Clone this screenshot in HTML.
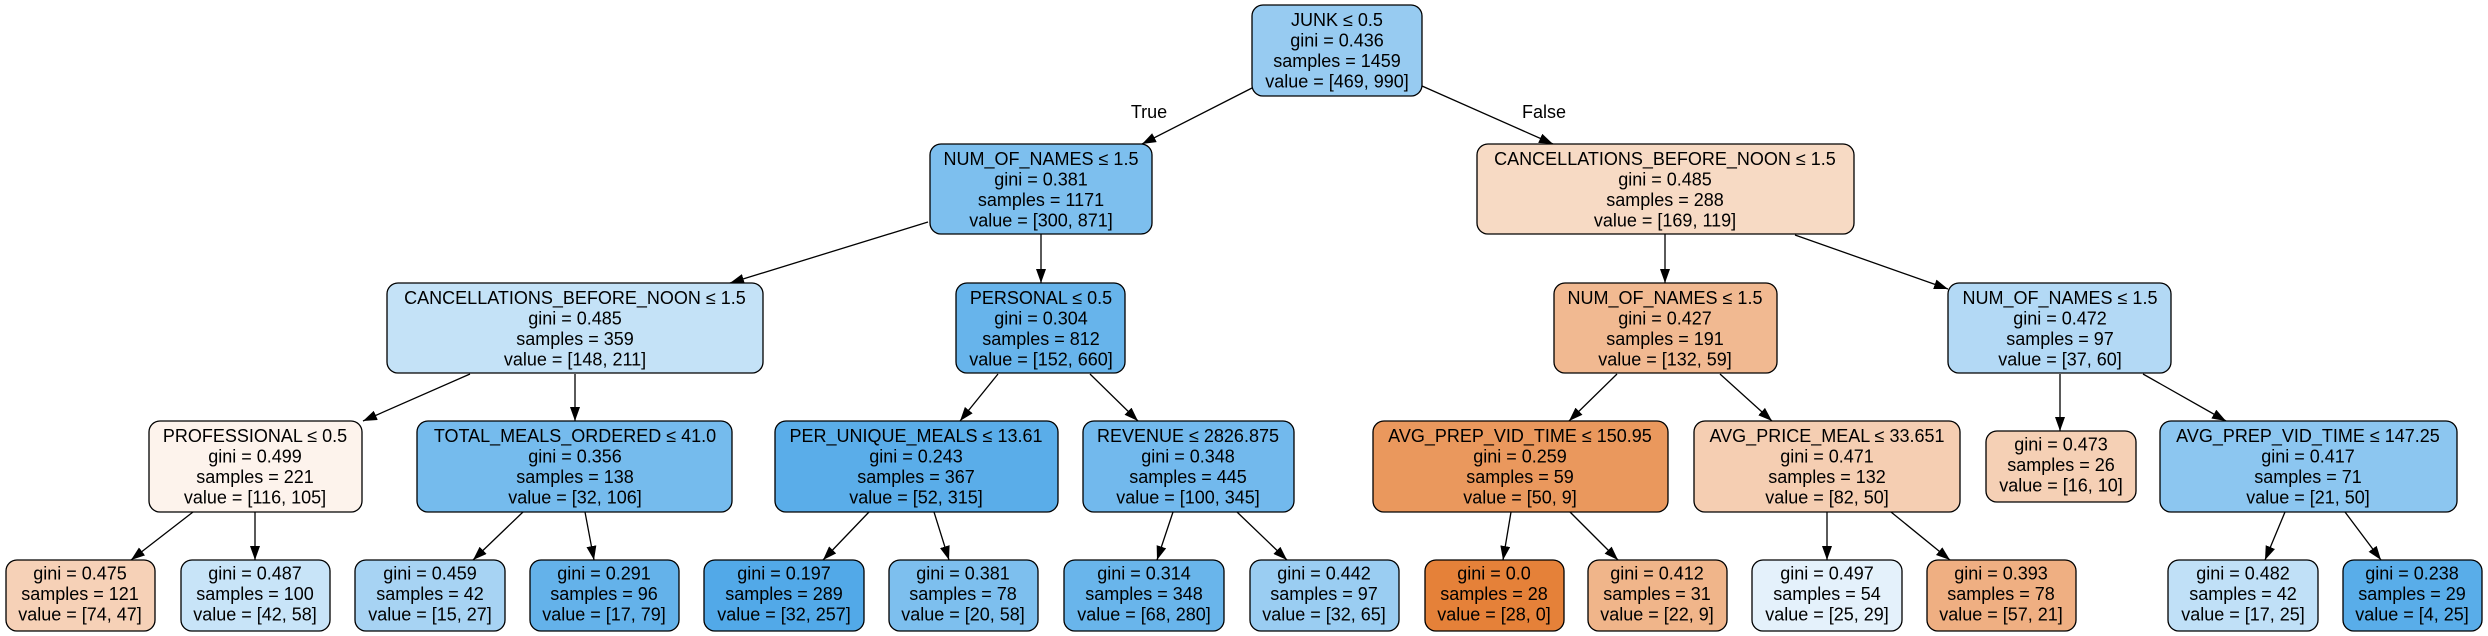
<!DOCTYPE html>
<html><head><meta charset="utf-8"><style>
html,body{margin:0;padding:0;background:#fff;}
svg{display:block;}
text{font-family:"Liberation Sans",Arial,sans-serif;font-size:18px;fill:#000;text-anchor:middle;}
rect{stroke:#000;stroke-width:1.3;}
line{stroke:#000;stroke-width:1.3;}
</style></head><body>
<svg width="2488" height="636" viewBox="0 0 2488 636" xmlns="http://www.w3.org/2000/svg">
<defs><marker id="a" markerWidth="14" markerHeight="10" refX="14" refY="5" orient="auto" markerUnits="userSpaceOnUse"><path d="M0,0 L14,5 L0,10 Z" fill="#000"/></marker></defs>
<g marker-end="url(#a)">
<line x1="1252" y1="88" x2="1142" y2="144"/>
<line x1="1422" y1="86" x2="1553" y2="144"/>
<line x1="928" y1="222" x2="730" y2="283"/>
<line x1="1041" y1="234" x2="1041" y2="283"/>
<line x1="470" y1="374" x2="363" y2="421"/>
<line x1="575" y1="374" x2="575" y2="421"/>
<line x1="998" y1="374" x2="960" y2="421"/>
<line x1="1090" y1="374" x2="1138" y2="421"/>
<line x1="193" y1="512" x2="131" y2="560"/>
<line x1="255" y1="512" x2="255" y2="560"/>
<line x1="523" y1="512" x2="473" y2="560"/>
<line x1="585" y1="512" x2="594" y2="560"/>
<line x1="869" y1="512" x2="823" y2="560"/>
<line x1="934" y1="512" x2="949" y2="560"/>
<line x1="1173" y1="512" x2="1157" y2="560"/>
<line x1="1237" y1="512" x2="1287" y2="560"/>
<line x1="1665" y1="234" x2="1665" y2="283"/>
<line x1="1795" y1="235" x2="1948" y2="289"/>
<line x1="1617" y1="374" x2="1569" y2="421"/>
<line x1="1720" y1="374" x2="1772" y2="421"/>
<line x1="2060" y1="374" x2="2060" y2="431"/>
<line x1="2143" y1="374" x2="2226" y2="421"/>
<line x1="1511" y1="512" x2="1503" y2="560"/>
<line x1="1570" y1="512" x2="1618" y2="560"/>
<line x1="1827" y1="512" x2="1827" y2="560"/>
<line x1="1891" y1="512" x2="1950" y2="560"/>
<line x1="2285" y1="512" x2="2265" y2="560"/>
<line x1="2345" y1="512" x2="2381" y2="560"/>
</g>
<text x="1149" y="118">True</text>
<text x="1544" y="118">False</text>

<!-- 4-line nodes -->
<g>
<rect x="1252" y="5" width="170" height="91" rx="11" fill="rgb(151,203,241)"/>
<text x="1337" y="26">JUNK ≤ 0.5</text><text x="1337" y="46.5">gini = 0.436</text><text x="1337" y="67">samples = 1459</text><text x="1337" y="87.5">value = [469, 990]</text>

<rect x="930" y="144" width="222" height="90" rx="11" fill="rgb(125,191,238)"/>
<text x="1041" y="165">NUM_OF_NAMES ≤ 1.5</text><text x="1041" y="185.5">gini = 0.381</text><text x="1041" y="206">samples = 1171</text><text x="1041" y="226.5">value = [300, 871]</text>

<rect x="1477" y="144" width="377" height="90" rx="11" fill="rgb(247,218,196)"/>
<text x="1665" y="165">CANCELLATIONS_BEFORE_NOON ≤ 1.5</text><text x="1665" y="185.5">gini = 0.485</text><text x="1665" y="206">samples = 288</text><text x="1665" y="226.5">value = [169, 119]</text>

<rect x="387" y="283" width="376" height="90" rx="11" fill="rgb(196,226,247)"/>
<text x="575" y="304">CANCELLATIONS_BEFORE_NOON ≤ 1.5</text><text x="575" y="324.5">gini = 0.485</text><text x="575" y="345">samples = 359</text><text x="575" y="365.5">value = [148, 211]</text>

<rect x="956" y="283" width="169" height="90" rx="11" fill="rgb(103,180,235)"/>
<text x="1041" y="304">PERSONAL ≤ 0.5</text><text x="1041" y="324.5">gini = 0.304</text><text x="1041" y="345">samples = 812</text><text x="1041" y="365.5">value = [152, 660]</text>

<rect x="1554" y="283" width="223" height="90" rx="11" fill="rgb(241,185,145)"/>
<text x="1665" y="304">NUM_OF_NAMES ≤ 1.5</text><text x="1665" y="324.5">gini = 0.427</text><text x="1665" y="345">samples = 191</text><text x="1665" y="365.5">value = [132, 59]</text>

<rect x="1948" y="283" width="223" height="90" rx="11" fill="rgb(179,217,245)"/>
<text x="2060" y="304">NUM_OF_NAMES ≤ 1.5</text><text x="2060" y="324.5">gini = 0.472</text><text x="2060" y="345">samples = 97</text><text x="2060" y="365.5">value = [37, 60]</text>

<rect x="149" y="421" width="213" height="91" rx="11" fill="rgb(253,243,236)"/>
<text x="255" y="442">PROFESSIONAL ≤ 0.5</text><text x="255" y="462.5">gini = 0.499</text><text x="255" y="483">samples = 221</text><text x="255" y="503.5">value = [116, 105]</text>

<rect x="417" y="421" width="315" height="91" rx="11" fill="rgb(117,187,237)"/>
<text x="575" y="442">TOTAL_MEALS_ORDERED ≤ 41.0</text><text x="575" y="462.5">gini = 0.356</text><text x="575" y="483">samples = 138</text><text x="575" y="503.5">value = [32, 106]</text>

<rect x="775" y="421" width="283" height="91" rx="11" fill="rgb(90,173,233)"/>
<text x="916" y="442">PER_UNIQUE_MEALS ≤ 13.61</text><text x="916" y="462.5">gini = 0.243</text><text x="916" y="483">samples = 367</text><text x="916" y="503.5">value = [52, 315]</text>

<rect x="1083" y="421" width="211" height="91" rx="11" fill="rgb(114,185,237)"/>
<text x="1188" y="442">REVENUE ≤ 2826.875</text><text x="1188" y="462.5">gini = 0.348</text><text x="1188" y="483">samples = 445</text><text x="1188" y="503.5">value = [100, 345]</text>

<rect x="1373" y="421" width="295" height="91" rx="11" fill="rgb(234,152,93)"/>
<text x="1520" y="442">AVG_PREP_VID_TIME ≤ 150.95</text><text x="1520" y="462.5">gini = 0.259</text><text x="1520" y="483">samples = 59</text><text x="1520" y="503.5">value = [50, 9]</text>

<rect x="1694" y="421" width="266" height="91" rx="11" fill="rgb(245,206,178)"/>
<text x="1827" y="442">AVG_PRICE_MEAL ≤ 33.651</text><text x="1827" y="462.5">gini = 0.471</text><text x="1827" y="483">samples = 132</text><text x="1827" y="503.5">value = [82, 50]</text>

<rect x="2160" y="421" width="297" height="91" rx="11" fill="rgb(140,198,240)"/>
<text x="2308" y="442">AVG_PREP_VID_TIME ≤ 147.25</text><text x="2308" y="462.5">gini = 0.417</text><text x="2308" y="483">samples = 71</text><text x="2308" y="503.5">value = [21, 50]</text>
</g>

<!-- leaves -->
<g>
<rect x="1986" y="431" width="150" height="71" rx="11" fill="rgb(245,208,181)"/>
<text x="2061" y="450.5">gini = 0.473</text><text x="2061" y="471">samples = 26</text><text x="2061" y="491.5">value = [16, 10]</text>

<rect x="6" y="560" width="149" height="71" rx="11" fill="rgb(246,209,183)"/>
<text x="80" y="579.5">gini = 0.475</text><text x="80" y="600">samples = 121</text><text x="80" y="620.5">value = [74, 47]</text>

<rect x="181" y="560" width="149" height="71" rx="11" fill="rgb(200,228,248)"/>
<text x="255" y="579.5">gini = 0.487</text><text x="255" y="600">samples = 100</text><text x="255" y="620.5">value = [42, 58]</text>

<rect x="355" y="560" width="150" height="71" rx="11" fill="rgb(167,211,243)"/>
<text x="430" y="579.5">gini = 0.459</text><text x="430" y="600">samples = 42</text><text x="430" y="620.5">value = [15, 27]</text>

<rect x="530" y="560" width="149" height="71" rx="11" fill="rgb(100,178,234)"/>
<text x="604" y="579.5">gini = 0.291</text><text x="604" y="600">samples = 96</text><text x="604" y="620.5">value = [17, 79]</text>

<rect x="704" y="560" width="160" height="71" rx="11" fill="rgb(82,169,232)"/>
<text x="784" y="579.5">gini = 0.197</text><text x="784" y="600">samples = 289</text><text x="784" y="620.5">value = [32, 257]</text>

<rect x="889" y="560" width="149" height="71" rx="11" fill="rgb(125,191,238)"/>
<text x="963" y="579.5">gini = 0.381</text><text x="963" y="600">samples = 78</text><text x="963" y="620.5">value = [20, 58]</text>

<rect x="1064" y="560" width="160" height="71" rx="11" fill="rgb(105,181,235)"/>
<text x="1144" y="579.5">gini = 0.314</text><text x="1144" y="600">samples = 348</text><text x="1144" y="620.5">value = [68, 280]</text>

<rect x="1250" y="560" width="149" height="71" rx="11" fill="rgb(154,205,242)"/>
<text x="1324" y="579.5">gini = 0.442</text><text x="1324" y="600">samples = 97</text><text x="1324" y="620.5">value = [32, 65]</text>

<rect x="1425" y="560" width="139" height="71" rx="11" fill="rgb(229,129,57)"/>
<text x="1494" y="579.5">gini = 0.0</text><text x="1494" y="600">samples = 28</text><text x="1494" y="620.5">value = [28, 0]</text>

<rect x="1588" y="560" width="139" height="71" rx="11" fill="rgb(240,181,138)"/>
<text x="1657" y="579.5">gini = 0.412</text><text x="1657" y="600">samples = 31</text><text x="1657" y="620.5">value = [22, 9]</text>

<rect x="1752" y="560" width="150" height="71" rx="11" fill="rgb(228,241,251)"/>
<text x="1827" y="579.5">gini = 0.497</text><text x="1827" y="600">samples = 54</text><text x="1827" y="620.5">value = [25, 29]</text>

<rect x="1927" y="560" width="149" height="71" rx="11" fill="rgb(239,175,130)"/>
<text x="2001" y="579.5">gini = 0.393</text><text x="2001" y="600">samples = 78</text><text x="2001" y="620.5">value = [57, 21]</text>

<rect x="2168" y="560" width="150" height="71" rx="11" fill="rgb(192,224,247)"/>
<text x="2243" y="579.5">gini = 0.482</text><text x="2243" y="600">samples = 42</text><text x="2243" y="620.5">value = [17, 25]</text>

<rect x="2343" y="560" width="139" height="71" rx="11" fill="rgb(89,173,233)"/>
<text x="2412" y="579.5">gini = 0.238</text><text x="2412" y="600">samples = 29</text><text x="2412" y="620.5">value = [4, 25]</text>
</g>
</svg>
</body></html>
